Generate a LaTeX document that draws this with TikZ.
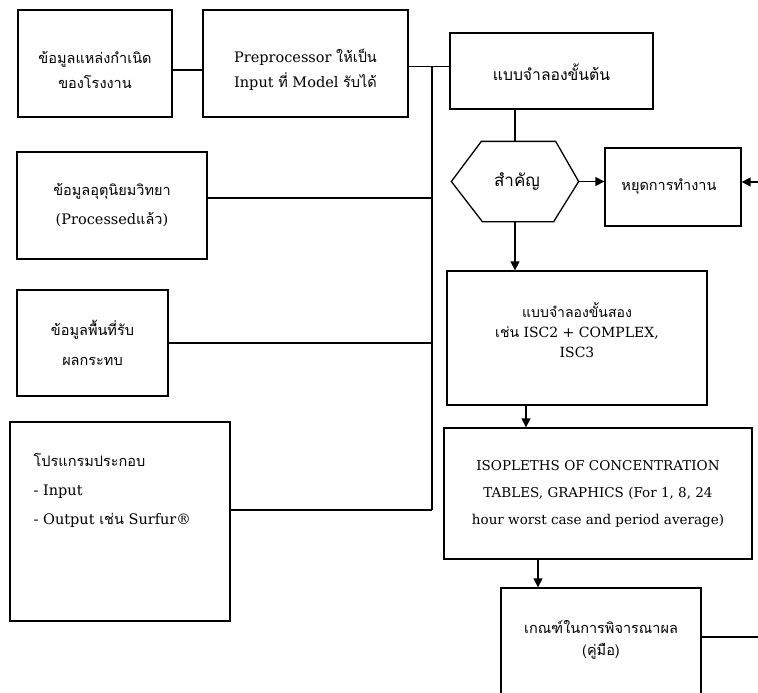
\documentclass[tikz,border=0pt]{standalone}
\usepackage{fontspec}
\setmainfont{DejaVu Serif}
\newfontfamily\thaifont[Script=Thai]{Loma}
\newcommand\thai[1]{{\thaifont #1}}
\usetikzlibrary{arrows.meta,calc}
\begin{document}
\begin{tikzpicture}[x=1pt,y=-1pt,line width=1.3pt,
  box/.style={draw,rectangle,inner sep=0pt,align=center},
  txt/.style={inner sep=0pt,align=center},
  fA/.style={font=\fontsize{14.5}{25}\selectfont},
  arr/.style={-{Triangle[width=9pt,length=9pt]}}]
\useasboundingbox (0,0) rectangle (758,693);
\clip (0,0) rectangle (758,693);
% boxes
\node[box,minimum width=154pt,minimum height=107pt] (b1) at (95,63.5) {};
\node[txt,fA] (b1t) at (95,69.5) {\thai{ข้อมูลแหล่งกำเนิด}\\\thai{ของโรงงาน}};
\node[box,minimum width=205pt,minimum height=107pt] (b2) at (305.5,63.5) {};
\node[txt,fA] (b2t) at (305.5,69.5) {Preprocessor \thai{ให้เป็น}\\Input \thai{ที่} Model \thai{รับได้}};
\node[box,minimum width=203pt,minimum height=76pt] (b3) at (551.5,71) {};
\node[txt,font=\fontsize{15.7}{25}\selectfont] (b3t) at (551.5,72) {\thai{แบบจำลองขั้นต้น}};
\node[inner sep=0pt,minimum width=126pt,minimum height=79pt] (hex) at (515,181.5) {};
\draw (hex.west) -- ($(hex.north west)+(30,0)$) -- ($(hex.north east)+(-23,0)$)
  -- (hex.east) -- ($(hex.south east)+(-25,0)$) -- ($(hex.south west)+(31,0)$) -- cycle;
\node[txt,font=\fontsize{17}{25}\selectfont] (hext) at (517,182) {\thai{สำคัญ}};
\node[box,minimum width=136pt,minimum height=78pt] (b4) at (673,187) {};
\node[txt,fA] (b4t) at (669,186) {\thai{หยุดการทำงาน}};
\node[box,font=\fontsize{14.5}{29}\selectfont,minimum width=190pt,minimum height=107pt] (b8) at (112,205.5)
  {\thai{ข้อมูลอุตุนิยมวิทยา}\\(Processed\thai{แล้ว})};
\node[box,font=\fontsize{14.5}{30}\selectfont,minimum width=151pt,minimum height=106pt] (b9) at (92.5,343)
  {\thai{ข้อมูลพื้นที่รับ}\\\thai{ผลกระทบ}};
\node[box,minimum width=220pt,minimum height=199pt] (b10) at (120,521.5) {};
\node[anchor=north west,inner sep=0pt,align=left,font=\fontsize{14.5}{29}\selectfont] (b10t) at (33,453)
  {\thai{โปรแกรมประกอบ}\\- Input\\- Output \thai{เช่น} Surfur®};
\node[box,minimum width=260pt,minimum height=134pt] (b5) at (577,338) {};
\node[txt,font=\fontsize{14}{20}\selectfont] (b5t) at (577,330)
  {\thai{แบบจำลองขั้นสอง}\\\thai{เช่น} ISC2 + COMPLEX,\\ISC3};
\node[box,font=\fontsize{13.5}{27}\selectfont,minimum width=308pt,minimum height=131pt] (b6) at (598,493.5)
  {ISOPLETHS OF CONCENTRATION\\TABLES, GRAPHICS (For 1, 8, 24\\hour worst case and period average)};
\node[box,minimum width=200pt,minimum height=142pt] (b7) at (601,659) {};
\node[txt,font=\fontsize{14.5}{22}\selectfont] (b7t) at (601,640) {\thai{เกณฑ์ในการพิจารณาผล}\\\thai{(คู่มือ)}};
% connectors
\coordinate (bus) at (432,67);
\coordinate (busend) at (432,510);
\coordinate (rin) at (758,182);
\coordinate (rout) at (758,637);
\draw ([yshift=-6.5pt]b1.east) -- ([yshift=-6.5pt]b2.west);
\draw ([yshift=-3pt]b2.east) -- ([yshift=-3pt]b2.east -| b3.west);
\draw (bus) -- (busend);
\draw ([yshift=7.5pt]b8.east) -- ([yshift=7.5pt]b8.east -| bus);
\draw (b9.east) -- (b9.east -| bus);
\draw ([yshift=11.5pt]b10.east) -- (busend);
\draw (hex.north |- b3.south) -- (hex.north);
\draw[arr] (hex.east) -- (hex.east -| b4.west);
\draw[arr] (rin) -- (rin -| b4.east);
\draw[arr] (hex.south) -- (hex.south |- b5.north);
\draw[arr] ([xshift=-51pt]b5.south) -- ([xshift=-51pt]b5.south |- b6.north);
\draw[arr] ([xshift=-60pt]b6.south) -- ([xshift=-60pt]b6.south |- b7.north);
\draw (rout -| b7.east) -- (rout);
\end{tikzpicture}
\end{document}
